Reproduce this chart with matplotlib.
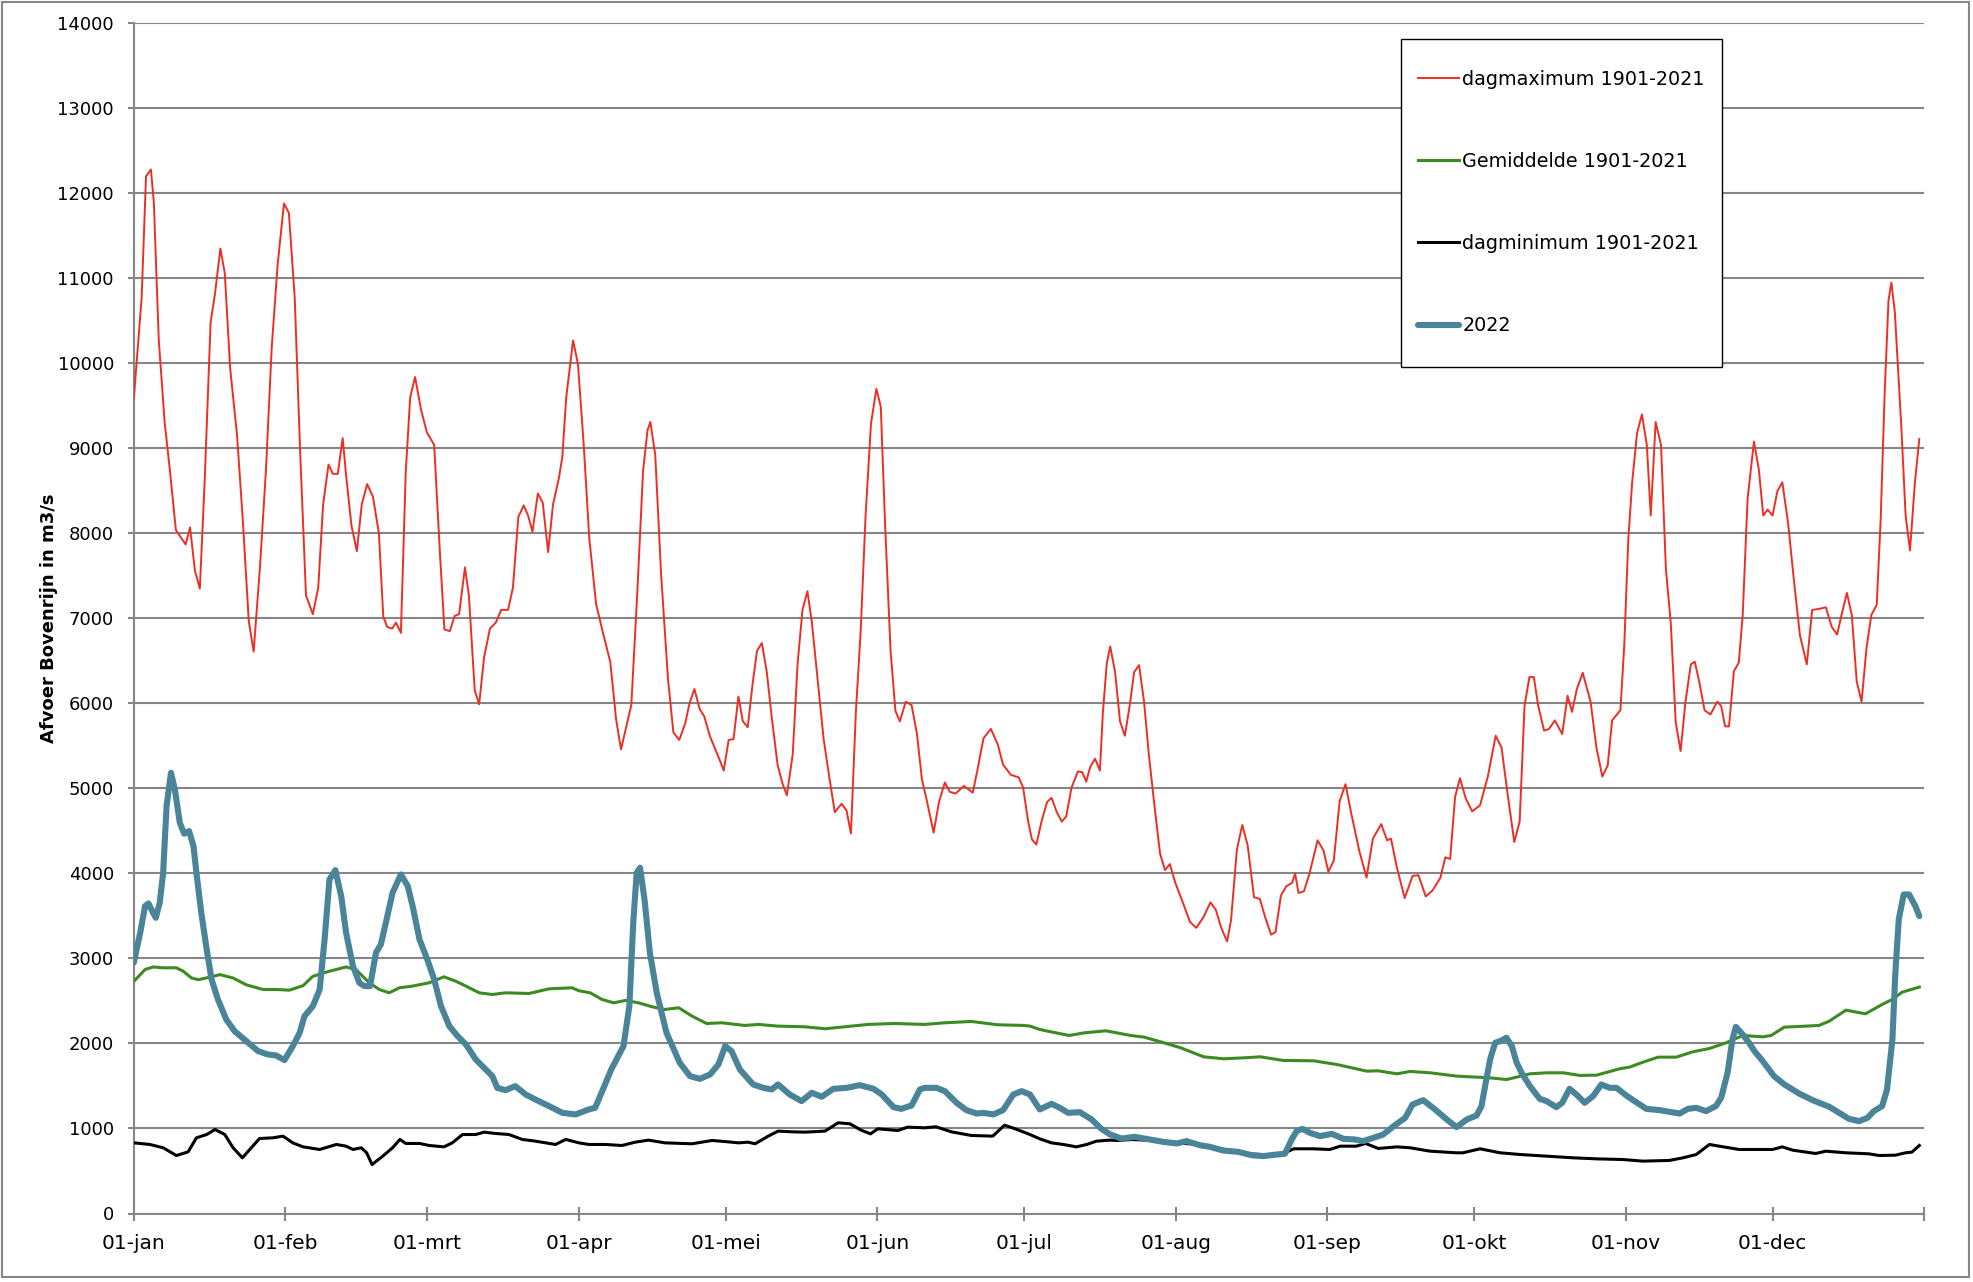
import matplotlib
matplotlib.use('Agg')
import matplotlib.pyplot as plt
from matplotlib.patches import Rectangle

# ---------------- data ----------------
month_days = [0, 31, 60, 91, 121, 152, 182, 213, 244, 274, 305, 335]
month_labels = ['01-jan', '01-feb', '01-mrt', '01-apr', '01-mei', '01-jun',
                '01-jul', '01-aug', '01-sep', '01-okt', '01-nov', '01-dec']
year_length = 366

series_labels = ['dagmaximum 1901-2021', 'Gemiddelde 1901-2021',
                 'dagminimum 1901-2021', '2022']

max_days = [0, 1.6, 2.5, 3.5, 4.1, 5.1, 6.3, 7.4, 8.6, 10.6, 11.5, 12.5, 13.5, 14.5, 15.7, 16.6, 17.7, 18.6, 19.7,
            21.1, 22.3, 23.5, 24.5, 25.8, 27.0, 28.2, 29.4, 30.7, 31.7, 32.9, 34.0, 35.2, 36.6, 37.7, 38.7, 39.8,
            40.7, 41.7, 42.7, 43.4, 44.5, 45.6, 46.6, 47.7, 48.9, 50.1, 51.0, 51.8, 52.8, 53.6, 54.6, 55.6, 56.5,
            57.5, 58.7, 59.9, 61.4, 62.6, 63.5, 64.6, 65.6, 66.5, 67.7, 68.5, 69.7, 70.6, 71.6, 72.8, 74.0, 75.1,
            76.5, 77.5, 78.6, 79.7, 80.6, 81.5, 82.6, 83.6, 84.7, 85.7, 86.9, 87.6, 88.4, 89.8, 90.8, 92.0, 93.1,
            94.5, 95.9, 97.4, 98.6, 99.6, 100.8, 101.7, 102.9, 104.1, 105.0, 105.6, 106.6, 107.8, 109.2, 110.3,
            111.5, 112.7, 113.6, 114.6, 115.7, 116.6, 117.8, 119.8, 120.6, 121.6, 122.6, 123.6, 124.5, 125.5,
            126.5, 127.4, 128.4, 129.4, 130.4, 131.6, 132.6, 133.5, 134.7, 135.7, 136.7, 137.7, 138.6, 139.8,
            141.0, 142.1, 143.3, 144.7, 145.7, 146.6, 147.6, 148.6, 149.6, 150.7, 151.8, 152.7, 153.6, 154.7,
            155.7, 156.6, 157.8, 159.0, 160.1, 161.1, 162.1, 163.5, 164.6, 165.8, 166.8, 168.0, 169.7, 171.5,
            172.4, 173.7, 175.2, 176.6, 177.7, 179.3, 180.9, 181.8, 182.8, 183.6, 184.5, 185.6, 186.7, 187.6,
            188.7, 189.7, 190.6, 191.7, 193.0, 193.9, 194.7, 195.5, 196.5, 197.5, 198.1, 198.9, 199.6, 200.6,
            201.6, 202.6, 203.6, 204.5, 205.5, 206.5, 207.5, 208.6, 209.8, 210.8, 211.8, 212.9, 214.5, 215.9,
            217.2, 218.6, 220.1, 221.2, 222.3, 223.5, 224.3, 225.5, 226.6, 227.7, 229.0, 230.2, 231.3, 232.5,
            233.4, 234.5, 235.6, 236.8, 237.4, 238.1, 239.2, 240.3, 242.0, 243.2, 244.2, 245.3, 246.5, 247.7,
            248.9, 250.5, 252.0, 253.3, 255.0, 256.2, 257.0, 258.2, 259.8, 261.4, 262.6, 264.1, 265.5, 267.1,
            268.1, 269.1, 270.1, 271.1, 272.3, 273.6, 275.2, 276.8, 278.4, 279.6, 280.8, 282.2, 283.3, 284.3,
            285.3, 286.2, 287.1, 288.3, 289.3, 290.5, 292.0, 293.1, 294.0, 295.0, 296.2, 297.8, 299.0, 300.2,
            301.3, 302.2, 303.9, 304.7, 305.5, 306.3, 307.3, 308.3, 309.3, 310.1, 311.1, 312.2, 313.2, 314.2,
            315.2, 316.2, 317.2, 318.3, 319.1, 320.0, 321.1, 322.3, 323.7, 324.5, 325.3, 326.1, 327.1, 328.1,
            328.9, 329.9, 331.2, 332.2, 333.1, 334.0, 335.0, 336.0, 337.0, 338.2, 339.4, 340.6, 342.0, 343.1,
            344.3, 345.9, 347.1, 348.2, 349.1, 350.2, 351.2, 352.2, 353.2, 354.2, 355.2, 356.3, 357.1, 357.9,
            358.7, 359.3, 360.0, 361.3, 362.2, 363.1, 364.1, 365.0]
max_vals = [9580, 10770, 12200, 12280, 11890, 10280, 9310, 8730, 8040, 7870, 8070, 7560, 7350, 8630, 10480, 10820,
            11350, 11060, 9940, 9160, 8140, 6970, 6610, 7610, 8730, 10190, 11160, 11880, 11770, 10770, 8970, 7270,
            7050, 7360, 8340, 8810, 8700, 8700, 9120, 8680, 8090, 7790, 8340, 8580, 8430, 8000, 7020, 6900, 6880,
            6950, 6830, 8730, 9600, 9840, 9460, 9190, 9040, 7750, 6870, 6850, 7030, 7050, 7600, 7270, 6150, 5990,
            6540, 6880, 6950, 7100, 7100, 7360, 8190, 8330, 8210, 8020, 8470, 8360, 7780, 8340, 8650, 8900, 9600,
            10270, 9990, 9020, 7950, 7170, 6830, 6490, 5810, 5460, 5760, 5980, 7270, 8730, 9210, 9310, 8920, 7510,
            6290, 5660, 5570, 5760, 6000, 6170, 5930, 5850, 5610, 5330, 5210, 5570, 5580, 6080, 5790, 5720, 6230,
            6620, 6710, 6370, 5840, 5280, 5060, 4920, 5400, 6470, 7100, 7320, 6960, 6280, 5590, 5160, 4720, 4820,
            4740, 4470, 5890, 6860, 8220, 9290, 9700, 9490, 8080, 6620, 5910, 5790, 6020, 5980, 5640, 5110, 4860,
            4480, 4840, 5070, 4960, 4940, 5030, 4950, 5200, 5590, 5700, 5520, 5280, 5160, 5130, 5010, 4620, 4400,
            4340, 4620, 4840, 4890, 4720, 4610, 4670, 5010, 5200, 5190, 5080, 5250, 5350, 5210, 5890, 6470, 6670,
            6370, 5790, 5620, 5980, 6370, 6450, 6030, 5400, 4820, 4230, 4040, 4110, 3890, 3650, 3430, 3360, 3480,
            3660, 3570, 3360, 3200, 3450, 4280, 4570, 4330, 3720, 3700, 3480, 3280, 3310, 3740, 3850, 3890, 4000,
            3770, 3790, 3990, 4390, 4270, 4020, 4150, 4850, 5050, 4700, 4270, 3950, 4410, 4580, 4390, 4410, 4070,
            3710, 3970, 3980, 3730, 3800, 3950, 4190, 4170, 4900, 5120, 4880, 4730, 4800, 5140, 5620, 5480, 4950,
            4370, 4610, 5970, 6310, 6310, 5970, 5680, 5700, 5800, 5640, 6090, 5900, 6170, 6360, 6020, 5480, 5140,
            5270, 5800, 5920, 6700, 7920, 8600, 9180, 9400, 9040, 8210, 9310, 9040, 7580, 6940, 5780, 5440, 6020,
            6460, 6490, 6260, 5920, 5870, 6020, 5970, 5730, 5730, 6380, 6480, 7040, 8410, 9080, 8750, 8210, 8280,
            8210, 8500, 8600, 8110, 7430, 6800, 6460, 7100, 7110, 7130, 6900, 6810, 7040, 7300, 7040, 6260, 6020,
            6650, 7040, 7160, 8160, 9620, 10740, 10950, 10600, 9280, 8210, 7800, 8600, 9110]

mean_days = [0, 2.3, 4.0, 6.0, 8.7, 10.1, 11.8, 13.2, 15.5, 17.6, 20.3, 23.0, 26.4, 29.1, 31.8, 34.6, 36.6, 40.0,
             43.4, 45.4, 48.2, 50.2, 52.2, 54.3, 57.0, 60.4, 63.4, 65.8, 67.9, 70.6, 73.3, 76.0, 80.8, 84.9, 89.6,
             91.0, 93.3, 95.7, 98.1, 100.5, 103.2, 106.0, 108.6, 111.4, 114.1, 117.1, 120.2, 124.9, 127.7, 131.7,
             137.2, 141.3, 145.3, 150.1, 155.5, 161.6, 165.7, 171.2, 176.6, 182.0, 183.2, 185.2, 186.8, 191.2,
             194.3, 198.7, 203.8, 206.5, 210.6, 214.0, 218.7, 222.8, 226.9, 230.3, 235.0, 241.2, 245.9, 252.0,
             254.4, 258.2, 260.9, 265.0, 270.4, 277.2, 280.6, 282.7, 285.4, 288.8, 292.2, 295.6, 299.0, 303.7,
             305.8, 308.5, 311.6, 315.3, 318.7, 322.1, 325.5, 328.9, 333.0, 334.7, 337.4, 341.8, 344.5, 346.6,
             350.0, 354.0, 357.4, 359.5, 361.5, 365.0]
mean_vals = [2730, 2870, 2900, 2890, 2890, 2850, 2770, 2750, 2780, 2810, 2770, 2690, 2635, 2635, 2627, 2680, 2790,
             2850, 2900, 2870, 2710, 2635, 2596, 2655, 2675, 2714, 2784, 2733, 2675, 2596, 2576, 2596, 2588, 2643,
             2655, 2620, 2596, 2518, 2478, 2506, 2478, 2431, 2400, 2420, 2322, 2235, 2243, 2212, 2224, 2204, 2196,
             2173, 2196, 2224, 2235, 2224, 2243, 2259, 2220, 2212, 2204, 2165, 2145, 2094, 2125, 2149, 2094, 2075,
             2008, 1949, 1843, 1820, 1831, 1843, 1800, 1796, 1753, 1675, 1678, 1643, 1671, 1655, 1616, 1596, 1576,
             1604, 1643, 1655, 1655, 1624, 1627, 1702, 1722, 1780, 1839, 1839, 1902, 1941, 2008, 2094, 2078, 2094,
             2192, 2204, 2212, 2263, 2392, 2349, 2459, 2518, 2604, 2663]

min_days = [0, 3.3, 6.0, 8.7, 11.1, 12.8, 14.9, 16.6, 18.6, 20.3, 22.2, 23.7, 25.7, 28.4, 30.5, 32.5, 34.6, 38.0,
            41.4, 43.4, 44.8, 46.5, 47.6, 48.7, 50.9, 52.9, 54.4, 55.6, 58.4, 60.4, 63.4, 65.1, 67.2, 69.9, 71.6,
            74.0, 76.7, 79.4, 82.1, 86.2, 88.3, 91.0, 93.0, 96.4, 99.8, 102.5, 105.2, 108.6, 114.1, 118.2, 121.5,
            123.6, 125.6, 127.0, 129.7, 131.7, 134.5, 137.2, 141.3, 144.0, 146.4, 148.7, 150.6, 152.1, 156.2,
            158.2, 161.6, 164.0, 167.1, 171.2, 175.6, 178.0, 180.0, 183.2, 185.2, 187.6, 190.0, 192.7, 194.8,
            196.8, 199.5, 201.0, 204.0, 208.0, 212.0, 216.0, 220.0, 224.0, 228.0, 232.0, 235.0, 237.1, 241.1,
            244.5, 246.6, 249.9, 251.8, 254.4, 258.2, 260.9, 265.0, 270.4, 271.7, 275.2, 279.3, 283.4, 288.8,
            294.2, 299.0, 304.4, 308.5, 313.9, 316.7, 319.4, 322.1, 324.1, 328.2, 332.3, 335.0, 337.0, 339.1,
            343.8, 345.9, 350.0, 354.7, 356.8, 360.1, 362.2, 363.5, 365.0]
min_vals = [831, 812, 773, 682, 725, 890, 929, 988, 929, 773, 655, 753, 882, 890, 910, 831, 784, 753, 812, 792, 753,
            773, 714, 576, 675, 773, 871, 824, 824, 800, 784, 831, 929, 929, 957, 941, 929, 871, 851, 812, 871, 831,
            812, 812, 800, 839, 863, 831, 820, 859, 843, 831, 839, 820, 910, 969, 961, 957, 969, 1067, 1055, 980,
            937, 996, 976, 1016, 1008, 1020, 961, 918, 910, 1039, 1000, 929, 878, 831, 812, 784, 812, 851, 863,
            859, 870, 860, 830, 820, 790, 740, 700, 690, 705, 761, 761, 753, 792, 792, 824, 765, 784, 773, 733,
            714, 714, 761, 714, 694, 675, 655, 643, 635, 616, 624, 655, 694, 812, 792, 753, 753, 753, 784, 745,
            706, 733, 714, 702, 682, 686, 714, 722, 800]

y2022_days = [0, 1.3, 2.3, 3.0, 3.6, 4.5, 5.3, 6.0, 6.7, 7.6, 8.4, 9.4, 10.3, 11.3, 12.2, 12.8, 13.8, 14.9, 15.9,
              17.2, 18.9, 20.6, 23.0, 25.4, 27.4, 29.1, 30.8, 32.5, 33.9, 34.9, 36.6, 38.0, 39.0, 40.0, 41.2, 42.4,
              43.4, 44.8, 46.1, 47.1, 48.3, 49.5, 50.5, 51.6, 52.9, 54.6, 56.0, 57.0, 58.4, 60.0, 61.4, 62.8, 64.5,
              66.2, 67.9, 69.9, 71.6, 73.3, 74.3, 76.0, 78.0, 80.1, 82.1, 84.9, 87.6, 90.3, 93.0, 94.3, 95.9, 97.6,
              100.1, 101.3, 102.1, 102.8, 103.5, 104.4, 105.5, 106.9, 108.9, 111.6, 113.7, 115.7, 117.8, 119.5,
              120.9, 122.2, 123.9, 126.6, 128.7, 130.4, 131.7, 134.1, 136.5, 138.6, 140.6, 143.0, 145.7, 148.4,
              151.2, 152.9, 155.3, 156.9, 159.0, 160.7, 161.7, 164.1, 165.8, 168.2, 170.2, 172.3, 173.7, 175.7,
              177.7, 179.8, 181.5, 183.2, 185.2, 187.6, 189.3, 191.0, 193.4, 195.8, 197.8, 199.6, 201.9, 204.6,
              207.0, 210.4, 213.2, 215.2, 217.9, 220.0, 222.7, 225.8, 228.5, 230.9, 233.6, 235.3, 236.7, 237.7,
              238.9, 240.4, 242.5, 244.9, 247.3, 249.6, 251.3, 253.4, 255.4, 257.8, 259.9, 261.4, 263.6, 266.0,
              268.4, 270.4, 272.5, 274.5, 275.5, 276.4, 277.3, 278.3, 279.3, 280.6, 281.7, 282.7, 283.7, 285.4,
              287.4, 288.8, 290.8, 292.0, 293.5, 294.9, 296.6, 298.3, 300.0, 301.7, 303.1, 305.1, 306.8, 309.2,
              311.9, 316.0, 317.7, 319.4, 321.4, 323.4, 324.5, 325.8, 326.8, 327.5, 328.9, 330.2, 331.3, 333.0,
              335.3, 337.4, 340.4, 343.2, 346.6, 348.6, 350.6, 352.7, 354.4, 355.7, 357.4, 358.4, 359.5, 360.1,
              360.8, 361.8, 362.9, 364.2, 365.0]
y2022_vals = [2950, 3300, 3616, 3647, 3576, 3478, 3655, 4008, 4792, 5184, 4988, 4596, 4467, 4498, 4322, 4008, 3537,
              3106, 2753, 2518, 2282, 2145, 2027, 1910, 1871, 1859, 1804, 1969, 2125, 2322, 2439, 2635, 3224, 3929,
              4039, 3733, 3302, 2910, 2714, 2675, 2675, 3067, 3165, 3439, 3773, 3988, 3851, 3616, 3224, 2988, 2753,
              2439, 2204, 2086, 1988, 1812, 1714, 1616, 1478, 1451, 1498, 1400, 1341, 1263, 1184, 1165, 1224, 1243,
              1459, 1694, 1969, 2439, 3420, 4008, 4067, 3694, 3067, 2596, 2125, 1773, 1616, 1584, 1635, 1753, 1969,
              1910, 1694, 1518, 1478, 1459, 1518, 1400, 1322, 1420, 1373, 1467, 1478, 1510, 1467, 1400, 1251, 1231,
              1271, 1459, 1478, 1478, 1439, 1302, 1216, 1176, 1184, 1165, 1216, 1400, 1439, 1400, 1224, 1290, 1243,
              1184, 1192, 1106, 996, 929, 882, 902, 878, 843, 824, 851, 804, 784, 741, 725, 686, 675, 694, 702, 871,
              969, 996, 949, 910, 937, 878, 871, 851, 890, 929, 1039, 1125, 1282, 1333, 1224, 1106, 1016, 1106,
              1153, 1263, 1550, 1820, 2008, 2027, 2067, 1969, 1773, 1655, 1498, 1349, 1322, 1251, 1302, 1467, 1400,
              1302, 1380, 1518, 1478, 1478, 1388, 1322, 1231, 1216, 1176, 1231, 1243, 1204, 1263, 1361, 1655, 2047,
              2196, 2106, 2008, 1910, 1792, 1616, 1518, 1412, 1333, 1255, 1184, 1114, 1086, 1125, 1204, 1263, 1459,
              2047, 2831, 3459, 3753, 3753, 3616, 3498]

# ---------------- figure ----------------
W, H, DPI = 1974, 1282, 100
GRID = '#868686'
fig = plt.figure(figsize=(W / DPI, H / DPI), dpi=DPI)
fig.patch.set_facecolor('white')

ax_left, ax_right, ax_top, ax_bottom = 133.8, 1924.2, 23.3, 1213.5
ax = fig.add_axes([ax_left / W, 1 - ax_bottom / H, (ax_right - ax_left) / W, (ax_bottom - ax_top) / H])

ax.plot(max_days, max_vals, color='#EC2F24', lw=1.4, label=series_labels[0], zorder=3)
ax.plot(mean_days, mean_vals, color='#3C8A22', lw=2.2, label=series_labels[1], zorder=3)
ax.plot(min_days, min_vals, color='black', lw=2.2, label=series_labels[2], zorder=3)
ax.plot(y2022_days, y2022_vals, color='#4A8499', lw=4.4, label=series_labels[3], zorder=4,
        solid_capstyle='round', solid_joinstyle='round')

ax.set_xlim(0, year_length)
ax.set_ylim(0, 14000)
ax.set_yticks(range(0, 14001, 1000))
ax.set_xticks(month_days + [year_length])
ax.set_xticklabels(month_labels + [''])
ax.yaxis.grid(True, color=GRID, lw=1.5)
ax.set_axisbelow(True)

for s in ['top', 'right']:
    ax.spines[s].set_visible(False)
for s in ['left', 'bottom']:
    ax.spines[s].set_color(GRID)
    ax.spines[s].set_linewidth(1.5)

ax.tick_params(axis='x', direction='inout', length=10, width=1.5, color=GRID, labelsize=14.5, pad=10)
ax.tick_params(axis='y', direction='out', length=4.3, width=1.5, color=GRID, labelsize=13, pad=10)

ax.set_ylabel('Afvoer Bovenrijn in m3/s', fontsize=13, fontweight='bold')
ax.yaxis.set_label_coords(-0.0425, 0.5)

# legend box
box = Rectangle((1400.7 / W, 1 - 366.7 / H), (1722 - 1400.7) / W, (366.7 - 39.3) / H,
                transform=fig.transFigure, facecolor='white', edgecolor='black', lw=1.0,
                zorder=5, clip_on=False)
ax.add_patch(box)
leg = ax.legend(loc='center left', bbox_to_anchor=(1418 / W, 1 - 202.5 / H), bbox_transform=fig.transFigure,
                frameon=False, fontsize=13.8, handlelength=2.15, handletextpad=0.16, labelspacing=3.3,
                borderpad=0, borderaxespad=0)
leg.set_zorder(6)

# outer chart border
fig.add_artist(Rectangle((2 / W, 1 - 1277 / H), (1969 - 2) / W, (1277 - 1.5) / H,
                         transform=fig.transFigure, fill=False, edgecolor=GRID, lw=1.5))

fig.savefig('out.png', dpi=DPI)
